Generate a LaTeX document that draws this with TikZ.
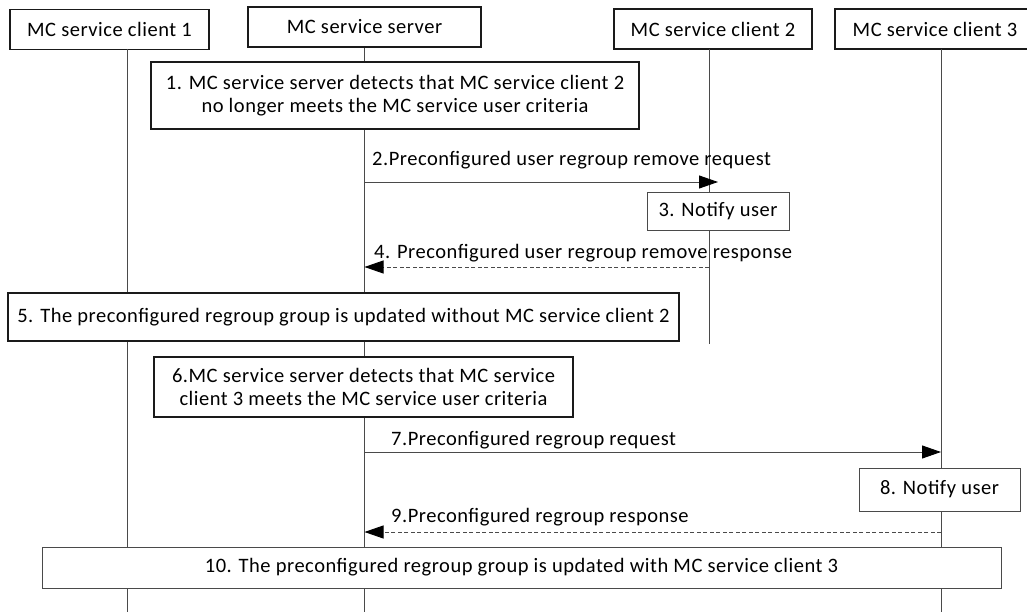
\documentclass[tikz,border=0pt]{standalone}
\usepackage{fontspec}
\setmainfont{Carlito}[LetterSpace=2.5]
\usetikzlibrary{positioning,arrows.meta}
\definecolor{linea}{HTML}{4A4A4A}
\definecolor{borde}{HTML}{1A1A1A}
\tikzset{
  cabeza/.style={draw=borde, line width=1.6pt, fill=white, minimum height=40pt, inner sep=0pt},
  paso/.style={draw=borde, line width=1.6pt, fill=white, align=center, inner sep=0pt},
  aviso/.style={draw=linea, line width=0.9pt, fill=white, align=center, inner sep=0pt},
  vida/.style={draw=linea, line width=0.9pt},
  msj/.style={draw=linea, line width=0.9pt, -{Triangle[length=19pt,width=13pt,color=black]}},
  resp/.style={msj, dash pattern=on 4pt off 2.5pt},
  etiq/.style={anchor=west, inner sep=0pt}
}
\begin{document}
\begin{tikzpicture}[x=1pt, y=-1pt, font=\fontsize{20.5}{23.5}\selectfont]
  \useasboundingbox (0,0) rectangle (1027,612);
  % entidades
  \node[cabeza, minimum width=199pt] (cl1) at (109.5,29.5) {MC service client 1};
  \node[cabeza, minimum width=233pt] (srv) at (364.5,27) {MC service server};
  \node[cabeza, minimum width=198pt] (cl2) at (713,29) {MC service client 2};
  \node[cabeza, minimum width=200pt] (cl3) at (935,29) {MC service client 3};
  \coordinate (l1) at (127,49);
  \coordinate (l2) at (709,49);
  \coordinate (l3) at (941,49);
  \coordinate (fin) at (0,612);
  \coordinate (fin2) at (0,344);
  % lineas de vida
  \draw[vida] (l1) -- (l1 |- fin);
  \draw[vida] (srv.south) -- (srv |- fin);
  \draw[vida] (l2) -- (l2 |- fin2);
  \draw[vida] (l3) -- (l3 |- fin);
  % pasos
  \node[paso, minimum width=488pt, minimum height=67pt] (p1) at (395,95.5)
    {1. MC service server detects that MC service client 2\\no longer meets the MC service user criteria};
  \coordinate (m2) at (0,182);
  \node[etiq] (t2) at (372,160) {2.Preconfigured user regroup remove request};
  \draw[msj] (srv |- m2) -- ([xshift=9pt]l2 |- m2);
  \node[aviso, minimum width=142pt, minimum height=38pt] (p3) at (718,211) {3. Notify user};
  \coordinate (m4) at (0,267);
  \node[etiq] (t4) at (374,253) {4. Preconfigured user regroup remove response};
  \draw[resp] (l2 |- m4) -- (srv |- m4);
  \node[paso, minimum width=671pt, minimum height=48pt] (p5) at (343.5,317)
    {5. The preconfigured regroup group is updated without MC service client 2};
  \node[paso, minimum width=419pt, minimum height=60pt] (p6) at (363.5,387)
    {6.MC service server detects that MC service\\client 3 meets the MC service user criteria};
  \coordinate (m7) at (0,452);
  \node[etiq] (t7) at (391,440) {7.Preconfigured regroup request};
  \draw[msj] (srv |- m7) -- (l3 |- m7);
  \node[aviso, minimum width=161pt, minimum height=43pt] (p8) at (939.5,489.5) {8. Notify user};
  \coordinate (m9) at (0,532);
  \node[etiq] (t9) at (391,517) {9.Preconfigured regroup response};
  \draw[resp] (l3 |- m9) -- (srv |- m9);
  \node[aviso, minimum width=959pt, minimum height=41pt] (p10) at (521.5,567.5)
    {10. The preconfigured regroup group is updated with MC service client 3};
\end{tikzpicture}
\end{document}
